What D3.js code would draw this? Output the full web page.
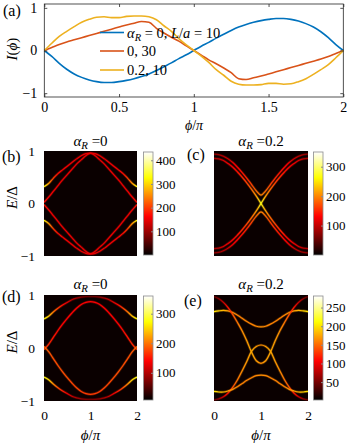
<!DOCTYPE html>
<html><head><meta charset="utf-8">
<script src="https://cdn.jsdelivr.net/npm/d3@7"></script>
<style>
body{margin:0;background:#fff}
svg{display:block}
svg text{font-family:"Liberation Serif","Times New Roman",Times,"DejaVu Serif",serif !important;fill:#000}
</style>
</head><body>
<svg id="fig" width="350" height="443"></svg>
<script>
// ---------- panel (a) data ----------
const phiA = d3.range(41).map(i => +(i * 0.05).toFixed(2));
const curBlue = [0,-0.14,-0.3,-0.44,-0.55,-0.63,-0.69,-0.73,-0.75,-0.75,-0.73,-0.7,-0.66,-0.61,-0.55,-0.47,-0.38,-0.29,-0.19,-0.1,0,
  0.1,0.19,0.29,0.38,0.47,0.55,0.61,0.66,0.7,0.73,0.75,0.75,0.73,0.69,0.63,0.55,0.44,0.3,0.14,0];
const curRed = [0,0.07,0.14,0.2,0.25,0.3,0.35,0.4,0.45,0.5,0.55,0.6,0.64,0.68,0.66,0.52,0.41,0.31,0.22,0.11,0,
  -0.11,-0.22,-0.31,-0.41,-0.52,-0.66,-0.68,-0.64,-0.6,-0.55,-0.5,-0.45,-0.4,-0.35,-0.3,-0.25,-0.2,-0.14,-0.07,0];
const curYellow = [0,0.17,0.33,0.45,0.56,0.66,0.73,0.78,0.79,0.77,0.77,0.8,0.81,0.81,0.79,0.72,0.58,0.45,0.28,0.13,0,
  -0.13,-0.28,-0.45,-0.58,-0.72,-0.79,-0.81,-0.81,-0.8,-0.77,-0.77,-0.79,-0.78,-0.73,-0.66,-0.56,-0.45,-0.33,-0.17,0];
const seriesColors = ["#0072BD", "#D95319", "#EDB120"];
const xTicksA = [0, 0.5, 1, 1.5, 2];
const yTicksA = [-1, 0, 1];

// ---------- heat-map panels: band energies E/Δ and intensities on φ/π grid ----------
const phiB = d3.range(21).map(i => +(i * 0.1).toFixed(1));
// (b) αR = 0
const bOuterUpE = [0.32,0.38,0.48,0.57,0.64,0.71,0.78,0.85,0.91,0.95,0.96,0.95,0.91,0.85,0.78,0.71,0.64,0.57,0.48,0.38,0.32];
const bOuterUpI = [330,260,200,170,160,155,152,150,150,150,150,150,150,150,152,155,160,170,200,260,330];
const bInnerUpE = [0.02,0.12,0.23,0.34,0.45,0.55,0.65,0.75,0.83,0.91,0.96,0.91,0.83,0.75,0.65,0.55,0.45,0.34,0.23,0.12,0.02];
const bInnerUpI = [175,160,152,150,150,150,150,150,150,150,150,150,150,150,150,150,150,150,152,160,175];
const bInnerDnE = [-0.02,-0.12,-0.23,-0.34,-0.45,-0.55,-0.65,-0.75,-0.83,-0.91,-0.96,-0.91,-0.83,-0.75,-0.65,-0.55,-0.45,-0.34,-0.23,-0.12,-0.02];
const bInnerDnI = [175,160,152,150,150,150,150,150,150,150,150,150,150,150,150,150,150,150,152,160,175];
const bOuterDnE = [-0.32,-0.38,-0.48,-0.57,-0.64,-0.71,-0.78,-0.85,-0.91,-0.95,-0.96,-0.95,-0.91,-0.85,-0.78,-0.71,-0.64,-0.57,-0.48,-0.38,-0.32];
const bOuterDnI = [330,260,200,170,160,155,152,150,150,150,150,150,150,150,152,155,160,170,200,260,330];
// (c) αR = 0.2
const cVUpE = [0.94,0.93,0.9,0.85,0.78,0.69,0.59,0.48,0.36,0.24,0.16,0.24,0.36,0.48,0.59,0.69,0.78,0.85,0.9,0.93,0.94];
const cVUpI = [70,80,95,110,120,130,140,150,165,185,200,185,165,150,140,130,120,110,95,80,70];
const cX1E = [0.86,0.85,0.82,0.76,0.69,0.6,0.5,0.39,0.27,0.14,0,-0.14,-0.27,-0.39,-0.5,-0.6,-0.69,-0.76,-0.82,-0.85,-0.86];
const cX1I = [85,95,110,120,130,140,150,165,185,210,270,210,185,165,150,140,130,120,110,95,85];
const cX2E = [-0.86,-0.85,-0.82,-0.76,-0.69,-0.6,-0.5,-0.39,-0.27,-0.14,0,0.14,0.27,0.39,0.5,0.6,0.69,0.76,0.82,0.85,0.86];
const cX2I = [85,95,110,120,130,140,150,165,185,210,270,210,185,165,150,140,130,120,110,95,85];
const cVDnE = [-0.94,-0.93,-0.9,-0.85,-0.78,-0.69,-0.59,-0.48,-0.36,-0.24,-0.16,-0.24,-0.36,-0.48,-0.59,-0.69,-0.78,-0.85,-0.9,-0.93,-0.94];
const cVDnI = [70,80,95,110,120,130,140,150,165,185,200,185,165,150,140,130,120,110,95,80,70];
// (d) αR = 0, longer junction
const dOuterUpE = [0.55,0.6,0.68,0.75,0.81,0.86,0.91,0.94,0.96,0.97,0.97,0.97,0.96,0.94,0.91,0.86,0.81,0.75,0.68,0.6,0.55];
const dOuterUpI = [270,240,200,170,145,125,105,90,75,65,60,65,75,90,105,125,145,170,200,240,270];
const dInnerUpE = [-0.03,0.07,0.2,0.33,0.45,0.56,0.66,0.75,0.82,0.86,0.875,0.86,0.82,0.75,0.66,0.56,0.45,0.33,0.2,0.07,-0.03];
const dInnerUpI = [170,160,150,145,140,140,140,140,140,140,140,140,140,140,140,140,140,145,150,160,170];
const dInnerDnE = [0.03,-0.07,-0.2,-0.33,-0.45,-0.56,-0.66,-0.75,-0.82,-0.86,-0.875,-0.86,-0.82,-0.75,-0.66,-0.56,-0.45,-0.33,-0.2,-0.07,0.03];
const dInnerDnI = [190,185,180,180,180,180,175,175,170,170,170,170,170,175,175,180,180,180,180,185,190];
const dOuterDnE = [-0.55,-0.6,-0.68,-0.75,-0.81,-0.86,-0.91,-0.94,-0.96,-0.97,-0.97,-0.97,-0.96,-0.94,-0.91,-0.86,-0.81,-0.75,-0.68,-0.6,-0.55];
const dOuterDnI = [280,250,210,180,155,130,110,95,80,70,65,70,80,95,110,130,155,180,210,250,280];
// (e) αR = 0.2, longer junction
const eUpperE = [0.685,0.7,0.71,0.7,0.67,0.62,0.56,0.5,0.45,0.41,0.4,0.41,0.45,0.5,0.56,0.62,0.67,0.7,0.71,0.7,0.685];
const eUpperI = [200,190,180,170,165,160,160,160,160,162,165,162,160,160,160,160,165,170,180,190,200];
const eCupE = [0.97,0.93,0.86,0.76,0.63,0.48,0.32,0.13,-0.08,-0.24,-0.29,-0.24,-0.08,0.13,0.32,0.48,0.63,0.76,0.86,0.93,0.97];
const eCupI = [40,60,85,115,140,155,165,170,175,170,165,170,175,170,165,155,140,115,85,60,40];
const eCapE = [-0.98,-0.96,-0.92,-0.85,-0.74,-0.6,-0.43,-0.25,-0.06,0.03,0.057,0.03,-0.06,-0.25,-0.43,-0.6,-0.74,-0.85,-0.92,-0.96,-0.98];
const eCapI = [40,60,85,115,140,155,165,170,175,170,165,170,175,170,165,155,140,115,85,60,40];
const eLowerE = [-0.82,-0.83,-0.83,-0.81,-0.78,-0.73,-0.67,-0.61,-0.56,-0.52,-0.51,-0.52,-0.56,-0.61,-0.67,-0.73,-0.78,-0.81,-0.83,-0.83,-0.82];
const eLowerI = [200,190,180,170,165,160,160,160,160,162,165,162,160,160,160,160,165,170,180,190,200];

const cbTicksB = [100, 200, 300, 400];
const cbTicksC = [100, 200, 300];
const cbTicksD = [100, 200, 300];
const cbTicksE = [50, 100, 150, 200, 250];
const heatXTicks = [0, 1, 2];
const heatYTicks = [-1, 0, 1];

// ---------- helpers ----------
const FONT = '"Liberation Serif","Times New Roman",Times,"DejaVu Serif",serif';
const svg = d3.select("#fig");
const defs = svg.append("defs");
function hot(t) {
  t = Math.max(0, Math.min(1, t));
  const r = Math.min(1, t / 0.375);
  const g = Math.max(0, Math.min(1, (t - 0.375) / 0.375));
  const b = Math.max(0, Math.min(1, (t - 0.75) / 0.25));
  return d3.rgb(r * 255, g * 255, b * 255).formatHex();
}
function mathTitle(g, x, y, val, size) {
  const t = g.append("text").attr("x", x).attr("y", y).attr("text-anchor", "middle").style("font-size", size + "px");
  t.append("tspan").text("α").style("font-style", "italic");
  t.append("tspan").text("R").style("font-style", "italic").style("font-size", (size * 0.72) + "px").attr("dy", 3);
  t.append("tspan").text(" =" + val).attr("dy", -3);
}
function styleAxisText(a, size) {
  a.attr("font-family", FONT);
  a.selectAll("text").style("font-size", (size || 13) + "px").attr("fill", "#000");
}

// ---------- panel (a) ----------
{
  const x = d3.scaleLinear([0, 2], [44.3, 343.3]);
  const y = d3.scaleLinear([-1.09, 1.09], [97, 4]);
  const g = svg.append("g");
  const line = d3.line().x((d, i) => x(phiA[i])).y(d => y(d)).curve(d3.curveMonotoneX);
  [curBlue, curRed, curYellow].forEach((s, k) => {
    g.append("path").attr("d", line(s)).attr("fill", "none").attr("stroke", seriesColors[k]).attr("stroke-width", 1.6);
  });
  g.append("rect").attr("x", x(0)).attr("y", 4).attr("width", x(2) - x(0)).attr("height", 93)
    .attr("fill", "none").attr("stroke", "#262626").attr("stroke-width", 0.8);
  const ax = g.append("g").attr("transform", `translate(0,97)`)
    .call(d3.axisBottom(x).tickValues(xTicksA).tickSize(-3).tickPadding(5).tickFormat(d3.format("~g")));
  const ay = g.append("g").attr("transform", `translate(${x(0)},0)`)
    .call(d3.axisLeft(y).tickValues(yTicksA).tickSize(-3).tickPadding(7).tickFormat(d3.format("~g")));
  const axt = g.append("g").attr("transform", `translate(0,4)`)
    .call(d3.axisTop(x).tickValues(xTicksA).tickSize(-3).tickFormat(""));
  const ayr = g.append("g").attr("transform", `translate(${x(2)},0)`)
    .call(d3.axisRight(y).tickValues(yTicksA).tickSize(-3).tickFormat(""));
  [ax, ay, axt, ayr].forEach(a => { a.select(".domain").remove(); a.selectAll("line").attr("stroke", "#262626").attr("stroke-width", 0.8);
    styleAxisText(a, 14); });
  // labels
  g.append("text").attr("x", 3).attr("y", 16).style("font-size", "16px").text("(a)");
  const yl = g.append("text").attr("transform", "translate(17,49) rotate(-90)").attr("text-anchor", "middle").style("font-size", "15px");
  yl.append("tspan").text("I").style("font-style", "italic");
  yl.append("tspan").text("(");
  yl.append("tspan").text("ϕ").style("font-style", "italic");
  yl.append("tspan").text(")");
  const xl = g.append("text").attr("x", 194).attr("y", 130).attr("text-anchor", "middle").style("font-size", "14px");
  xl.append("tspan").text("ϕ").style("font-style", "italic");
  xl.append("tspan").text("/");
  xl.append("tspan").text("π").style("font-style", "italic");
  // legend
  const rows = [32.5, 51, 70];
  rows.forEach((ry, k) => {
    g.append("line").attr("x1", 100).attr("x2", 124).attr("y1", ry).attr("y2", ry)
      .attr("stroke", seriesColors[k]).attr("stroke-width", 1.6);
  });
  const fs = "14.5px";
  const t0 = g.append("text").attr("x", 127).attr("y", rows[0] + 5).style("font-size", fs);
  t0.append("tspan").text("α").style("font-style", "italic");
  t0.append("tspan").text("R").style("font-style", "italic").style("font-size", "10.5px").attr("dy", 3);
  t0.append("tspan").text(" = 0, ").attr("dy", -3);
  t0.append("tspan").text("L").style("font-style", "italic");
  t0.append("tspan").text("/");
  t0.append("tspan").text("a").style("font-style", "italic");
  t0.append("tspan").text(" = 10");
  g.append("text").attr("x", 127).attr("y", rows[1] + 5).style("font-size", fs).text("0, 30");
  g.append("text").attr("x", 127).attr("y", rows[2] + 5).style("font-size", fs).text("0.2, 10");
}

// ---------- heat-map panels ----------
let gid = 0;
function heatPanel(opt) {
  const { x0, x1, y0, y1, bands, vmin, vmax, cbx, cbTicks, showY, showX, label, labelX, labelY, alpha, titleY } = opt;
  const g = svg.append("g");
  const x = d3.scaleLinear([0, 2], [x0, x1]);
  const y = d3.scaleLinear([-1, 1], [y1, y0]);
  const cid = "clip" + (++gid);
  defs.append("clipPath").attr("id", cid).append("rect").attr("x", x0).attr("y", y0).attr("width", x1 - x0).attr("height", y1 - y0);
  g.append("rect").attr("x", x0).attr("y", y0).attr("width", x1 - x0).attr("height", y1 - y0).attr("fill", hot(0.015));
  const pg = g.append("g").attr("clip-path", `url(#${cid})`);
  const line = d3.line().x((d, i) => x(phiB[i])).y(d => y(d)).curve(d3.curveCatmullRom.alpha(0.5));
  bands.forEach(([E, I]) => {
    const grId = "bg" + (++gid);
    const gr = defs.append("linearGradient").attr("id", grId).attr("gradientUnits", "userSpaceOnUse")
      .attr("x1", x0).attr("x2", x1).attr("y1", 0).attr("y2", 0);
    I.forEach((v, i) => gr.append("stop").attr("offset", phiB[i] / 2).attr("stop-color", hot((v - vmin) / (vmax - vmin))));
    pg.append("path").attr("d", line(E)).attr("fill", "none").attr("stroke", `url(#${grId})`)
      .attr("stroke-width", 2.6).attr("stroke-opacity", 0.3);
    pg.append("path").attr("d", line(E)).attr("fill", "none").attr("stroke", `url(#${grId})`)
      .attr("stroke-width", 1.2);
  });
  if (showY) {
    const ay = g.append("g").attr("transform", `translate(${x0},0)`)
      .call(d3.axisLeft(y).tickValues(heatYTicks).tickSize(0).tickPadding(9).tickFormat(d3.format("~g")));
    ay.select(".domain").remove();
    styleAxisText(ay, 13.5);
    const yl = g.append("text").attr("transform", `translate(17,${(y0 + y1) / 2 - 6}) rotate(-90)`).attr("text-anchor", "middle").style("font-size", "15px");
    yl.append("tspan").text("E").style("font-style", "italic");
    yl.append("tspan").text("/Δ");
  }
  if (showX) {
    const ax = g.append("g").attr("transform", `translate(0,${y1})`)
      .call(d3.axisBottom(x).tickValues(heatXTicks).tickSize(0).tickPadding(9).tickFormat(d3.format("~g")));
    ax.select(".domain").remove();
    styleAxisText(ax, 13.5);
    const xl = g.append("text").attr("x", (x0 + x1) / 2).attr("y", 440).attr("text-anchor", "middle").style("font-size", "15px");
    xl.append("tspan").text("ϕ").style("font-style", "italic");
    xl.append("tspan").text("/");
    xl.append("tspan").text("π").style("font-style", "italic");
  }
  // colorbar
  const cy0 = y0 + 1, cy1 = y1 - 1, cw = 9.5;
  const cgId = "cg" + (++gid);
  const cg = defs.append("linearGradient").attr("id", cgId).attr("x1", 0).attr("x2", 0).attr("y1", 1).attr("y2", 0);
  d3.range(65).forEach(i => cg.append("stop").attr("offset", i / 64).attr("stop-color", hot(i / 64)));
  g.append("rect").attr("x", cbx).attr("y", cy0).attr("width", cw).attr("height", cy1 - cy0)
    .attr("fill", `url(#${cgId})`).attr("stroke", "#8c8c8c").attr("stroke-width", 0.8);
  const cs = d3.scaleLinear([vmin, vmax], [cy1, cy0]);
  const ac = g.append("g").attr("transform", `translate(${cbx + cw},0)`)
    .call(d3.axisRight(cs).tickValues(cbTicks).tickSize(-2).tickPadding(3).tickFormat(d3.format("d")));
  ac.select(".domain").remove();
  ac.selectAll("line").attr("stroke", "#8c8c8c");
  styleAxisText(ac, 13);
  // titles / labels
  mathTitle(g, (x0 + x1) / 2, titleY, alpha, 15);
  g.append("text").attr("x", labelX).attr("y", labelY).style("font-size", "16px").text(label);
}

heatPanel({ x0: 44, x1: 137, y0: 151, y1: 256, vmin: 0, vmax: 435, cbx: 143.5, cbTicks: cbTicksB, showY: true, showX: false,
  label: "(b)", labelX: 2, labelY: 162, alpha: "0", titleY: 146,
  bands: [[bOuterUpE, bOuterUpI], [bInnerUpE, bInnerUpI], [bInnerDnE, bInnerDnI], [bOuterDnE, bOuterDnI]] });
heatPanel({ x0: 214, x1: 308, y0: 151, y1: 256, vmin: 0, vmax: 350, cbx: 313.5, cbTicks: cbTicksC, showY: false, showX: false,
  label: "(c)", labelX: 187, labelY: 160, alpha: "0.2", titleY: 146,
  bands: [[cVUpE, cVUpI], [cX1E, cX1I], [cX2E, cX2I], [cVDnE, cVDnI]] });
heatPanel({ x0: 44, x1: 137, y0: 295, y1: 401, vmin: 8, vmax: 360, cbx: 143.5, cbTicks: cbTicksD, showY: true, showX: true,
  label: "(d)", labelX: 2, labelY: 302, alpha: "0", titleY: 289,
  bands: [[dOuterUpE, dOuterUpI], [dInnerUpE, dInnerUpI], [dInnerDnE, dInnerDnI], [dOuterDnE, dOuterDnI]] });
heatPanel({ x0: 214, x1: 308, y0: 295, y1: 401, vmin: 2, vmax: 281, cbx: 313.5, cbTicks: cbTicksE, showY: false, showX: true,
  label: "(e)", labelX: 184, labelY: 306, alpha: "0.2", titleY: 289,
  bands: [[eUpperE, eUpperI], [eCupE, eCupI], [eCapE, eCapI], [eLowerE, eLowerI]] });
</script>
</body></html>
